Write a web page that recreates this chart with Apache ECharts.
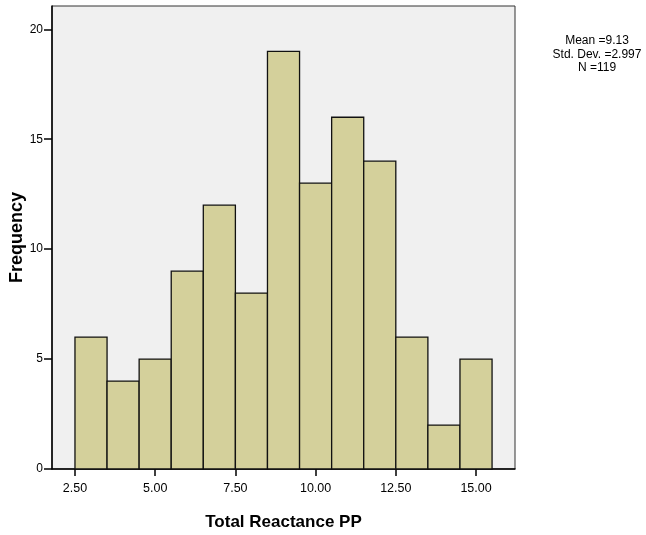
<!DOCTYPE html>
<html><head><meta charset="utf-8">
<script src="https://cdn.jsdelivr.net/npm/echarts@6/dist/echarts.min.js"></script>
<style>html,body{margin:0;padding:0;background:#fff}#c{width:646px;height:535px}</style>
</head><body><div id="c"></div>
<script>
const binCenters = [3, 4, 5, 6, 7, 8, 9, 10, 11, 12, 13, 14, 15];
const counts = [6, 4, 5, 9, 12, 8, 19, 13, 16, 14, 6, 2, 5];
const binWidth = 1;
const xTicks = [2.5, 5, 7.5, 10, 12.5, 15];
const yTicks = [0, 5, 10, 15, 20];
const statsLines = ['Mean =9.13', 'Std. Dev. =2.997', 'N =119'];
const xTitle = 'Total Reactance PP';
const yTitle = 'Frequency';

const chart = echarts.init(document.getElementById('c'));
const font = 'Liberation Sans, Arial, sans-serif';
chart.setOption({
  animation: false,
  backgroundColor: '#fff',
  grid: { left: 52, top: 6, right: 131, bottom: 66, outerBoundsMode: 'none', containLabel: false, show: true, backgroundColor: '#f0f0f0', borderColor: '#333', borderWidth: 1 },
  xAxis: {
    type: 'value', min: 1.784, max: 16.215,
    splitLine: { show: false },
    axisLine: { lineStyle: { color: '#000', width: 1.5 } },
    axisTick: { show: true, length: 7, customValues: xTicks, lineStyle: { color: '#000', width: 1.5 } },
    axisLabel: { customValues: xTicks, formatter: v => v.toFixed(2), color: '#000', fontSize: 12.5, fontFamily: font, margin: 13 },
    name: xTitle, nameLocation: 'middle', nameGap: 45, nameMoveOverlap: false,
    nameTextStyle: { fontSize: 17, fontWeight: 'bold', color: '#000', fontFamily: font }
  },
  yAxis: {
    type: 'value', min: 0, max: 21.06,
    splitLine: { show: false },
    axisLine: { show: true, lineStyle: { color: '#000', width: 1.5 } },
    axisTick: { show: true, length: 8, customValues: yTicks, lineStyle: { color: '#000', width: 1.5 } },
    axisLabel: { customValues: yTicks, color: '#000', fontSize: 12, fontFamily: font, margin: 9 },
    name: yTitle, nameLocation: 'middle', nameGap: 26, nameRotate: 90, nameMoveOverlap: false,
    nameTextStyle: { fontSize: 18, fontWeight: 'bold', color: '#000', fontFamily: font }
  },
  graphic: [{
    type: 'text', left: 597 - 60, top: 34,
    style: { text: statsLines.join('\n'), width: 120, align: 'center', x: 60, textAlign: 'center', font: '12px ' + font, fill: '#000', lineHeight: 13.5 }
  }],
  series: [{
    type: 'custom',
    data: binCenters.map((c, i) => [c, counts[i]]),
    renderItem: function (params, api) {
      const c = api.value(0), v = api.value(1);
      const p0 = api.coord([c - binWidth / 2, v]);
      const p1 = api.coord([c + binWidth / 2, 0]);
      return {
        type: 'rect',
        shape: { x: p0[0], y: p0[1], width: p1[0] - p0[0], height: p1[1] - p0[1] },
        style: { fill: '#d4d09b', stroke: '#111', lineWidth: 1.3 }
      };
    }
  }]
});
</script></body></html>
